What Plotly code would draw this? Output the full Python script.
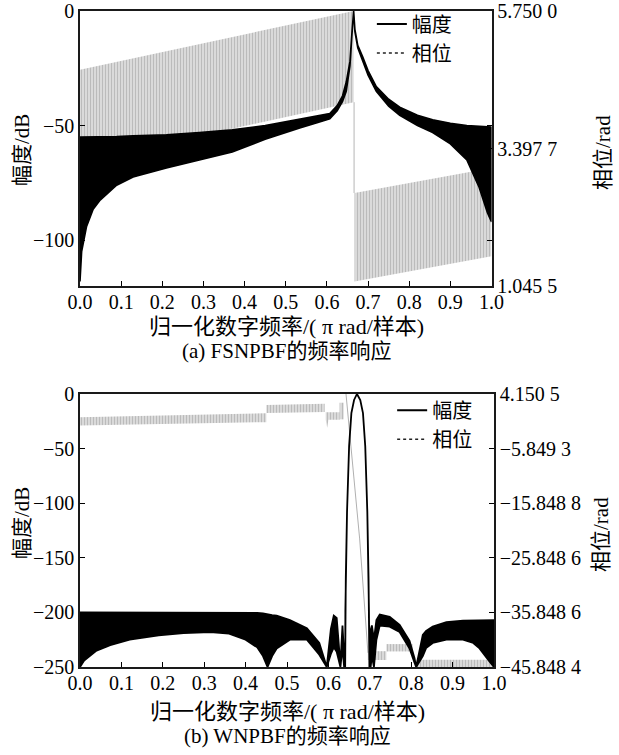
import plotly.graph_objects as go

FONT = "Liberation Serif, Noto Sans CJK SC, serif"

# ---------------- (a) FSNPBF ----------------
# magnitude envelope (dB): the dense ripple is drawn as the band between upper / lower
fs_freq = [0.000, 0.004, 0.016, 0.032, 0.049, 0.089, 0.129, 0.210, 0.290, 0.370,
           0.450, 0.534, 0.580, 0.607, 0.625, 0.638, 0.647, 0.656, 0.661, 0.665,
           0.668, 0.675, 0.687, 0.700, 0.720, 0.750, 0.777, 0.820, 0.857, 0.900,
           0.940, 0.970, 0.990, 1.000]
fs_mag_upper = [-55, -55, -55, -55, -55, -54.8, -54.5, -54, -53, -51.8,
                -50, -47.3, -46, -44.8, -41.3, -37, -31, -22, -9, 0,
                -8, -15, -20, -26, -33, -38.5, -42, -45.5, -47.5, -49,
                -50, -50.3, -50.5, -50.6]
fs_mag_lower = [-118, -105, -94, -86.5, -82.5, -76, -72.4, -68.5, -65, -61.5,
                -56, -51, -48.5, -47, -43.5, -39.5, -35, -24, -10, 0,
                -9, -16, -21.5, -28, -35, -41.5, -45.5, -50, -53, -58,
                -65, -77, -88, -92]

# phase envelope (rad), two branches either side of the jump
fs_ph1_freq = [0.000, 0.665]
fs_ph1_upper = [4.746, 5.750]
fs_ph1_lower = [3.170, 4.190]
fs_ph2_freq = [0.667, 1.000]
fs_ph2_upper = [2.637, 3.065]
fs_ph2_lower = [1.124, 1.555]
fs_jump_freq = [0.666, 0.666]
fs_jump_phase = [4.190, 2.637]

fs_mag_ticks = [-100, -50, 0]
fs_ph_ticks = [1.0455, 3.3977, 5.7500]
fs_ph_ticktext = ["1.045 5", "3.397 7", "5.750 0"]

# ---------------- (b) WNPBF ----------------
wn_freq = [0.000, 0.010, 0.017, 0.040, 0.073, 0.120, 0.190, 0.250, 0.315, 0.360,
           0.400, 0.428, 0.442, 0.453, 0.464, 0.475, 0.507, 0.548, 0.578, 0.596,
           0.606, 0.613, 0.620, 0.629, 0.634, 0.638, 0.6405, 0.641, 0.642, 0.645,
           0.650, 0.6555, 0.662, 0.669, 0.677, 0.6835, 0.689, 0.694, 0.697, 0.698,
           0.699, 0.702, 0.705, 0.710, 0.716, 0.724, 0.748, 0.772, 0.796, 0.808,
           0.812, 0.828, 0.836, 0.852, 0.885, 0.925, 0.950, 0.965, 0.989, 1.000]
wn_mag_upper = [-200, -200, -200, -200, -200, -200, -200, -200, -200, -200,
                -200, -200.5, -201, -202, -202.5, -203, -207, -214.5, -228, -250,
                -215, -203, -205, -248, -212, -240, -250, -199, -169, -108,
                -48, -17.6, -5.5, 0, -5.5, -17.6, -48, -108, -169, -199,
                -250, -216, -212, -225, -207, -202, -204, -211.5, -226, -242,
                -250, -220.6, -217, -213, -209, -207.6, -207.3, -207.2, -207, -207]
wn_mag_lower = [-250, -244, -241.8, -235, -230, -225, -221, -219, -218, -219.5,
                -225, -232, -240, -250, -240, -233, -225, -225, -238.8, -250,
                -238, -232, -236, -250, -232, -250, -250, -199, -169, -108,
                -48, -17.6, -5.5, 0, -5.5, -17.6, -48, -108, -169, -199,
                -250, -250, -240, -250, -225, -212, -213, -218, -233, -246,
                -250, -240, -232.7, -228, -225, -225, -228, -233, -245, -250]

# phase (rad): piecewise steps plus the linear-phase passband segment
wn_ph_bands = {
    "p1": ([0.000, 0.450], [-0.09, 0.63], [-1.61, -1.01]),
    "p2": ([0.450, 0.591], [2.15, 2.35], [0.65, 0.85]),
    "p3": ([0.5935, 0.597, 0.600, 0.627], [0.81, 0.81, 0.81, 0.81], [-0.57, -2.05, -0.57, -0.57]),
    "p4": ([0.627, 0.637], [2.55, 2.55], [-0.50, -0.50]),
    "p5": ([0.695, 0.740], [-42.95, -42.95], [-44.57, -44.57]),
    "p6": ([0.740, 0.804], [-41.65, -41.65], [-43.00, -43.00]),
    "p7": ([0.812, 1.000], [-44.50, -44.50], [-45.85, -45.85]),
}
wn_pass_freq = [0.6425, 0.6755, 0.6955]
wn_pass_phase = [4.15, -22.4, -43.25]

wn_mag_ticks = [-250, -200, -150, -100, -50, 0]
wn_ph_ticks = [-45.8484, -35.8486, -25.8486, -15.8488, -5.8493, 4.1505]
wn_ph_ticktext = ["\u221245.848 4", "\u221235.848 6", "\u221225.848 6",
                  "\u221215.848 8", "\u22125.849 3", "4.150 5"]

x_ticks = [0.0, 0.1, 0.2, 0.3, 0.4, 0.5, 0.6, 0.7, 0.8, 0.9, 1.0]
x_ticktext = ["0.0", "0.1", "0.2", "0.3", "0.4", "0.5", "0.6", "0.7", "0.8", "0.9", "1.0"]


def band(x, up, lo):
    """Closed polygon between an upper and lower envelope."""
    return list(x) + list(x)[::-1] + [x[0]], list(up) + list(lo)[::-1] + [up[0]]


PHASE_PATTERN = dict(shape="|", fgcolor="#9c9c9c", bgcolor="#dadada", size=3, solidity=0.34)

fig = go.Figure()

# ---- subplot (a): phase first (base axis), magnitude on overlaying axis ----
for fx, fu, fl in [(fs_ph1_freq, fs_ph1_upper, fs_ph1_lower),
                   (fs_ph2_freq, fs_ph2_upper, fs_ph2_lower)]:
    px, py = band(fx, fu, fl)
    fig.add_trace(go.Scatter(x=px, y=py, xaxis="x", yaxis="y", mode="lines",
                             line=dict(width=0, color="#bdbdbd"), fill="toself",
                             fillcolor="#cfcfcf", fillpattern=PHASE_PATTERN,
                             showlegend=False, hoverinfo="skip"))
fig.add_trace(go.Scatter(x=fs_jump_freq, y=fs_jump_phase, xaxis="x", yaxis="y", mode="lines",
                         line=dict(width=1, color="#b5b5b5"), showlegend=False, hoverinfo="skip"))

px, py = band(fs_freq, fs_mag_upper, fs_mag_lower)
fig.add_trace(go.Scatter(x=px, y=py, xaxis="x", yaxis="y3", mode="lines",
                         line=dict(width=1.6, color="black"), fill="toself", fillcolor="black",
                         showlegend=False, hoverinfo="skip"))

# ---- subplot (b) ----
for key, (fx, fu, fl) in wn_ph_bands.items():
    px, py = band(fx, fu, fl)
    fig.add_trace(go.Scatter(x=px, y=py, xaxis="x2", yaxis="y2", mode="lines",
                             line=dict(width=0, color="#bdbdbd"), fill="toself",
                             fillcolor="#cfcfcf", fillpattern=PHASE_PATTERN,
                             showlegend=False, hoverinfo="skip"))
fig.add_trace(go.Scatter(x=wn_pass_freq, y=wn_pass_phase, xaxis="x2", yaxis="y2", mode="lines",
                         line=dict(width=1, color="#b0b0b0"), showlegend=False, hoverinfo="skip"))

px, py = band(wn_freq, wn_mag_upper, wn_mag_lower)
fig.add_trace(go.Scatter(x=px, y=py, xaxis="x2", yaxis="y4", mode="lines",
                         line=dict(width=1.8, color="black"), fill="toself", fillcolor="black",
                         showlegend=False, hoverinfo="skip"))

# ---- legend entries ----
for lg, xa, ya_m, ya_p in [("legend", "x", "y3", "y"), ("legend2", "x2", "y4", "y2")]:
    fig.add_trace(go.Scatter(x=[None], y=[None], xaxis=xa, yaxis=ya_m, mode="lines",
                             name="幅度", line=dict(color="black", width=2), legend=lg))
    fig.add_trace(go.Scatter(x=[None], y=[None], xaxis=xa, yaxis=ya_p, mode="lines",
                             name="相位", line=dict(color="#222", width=1.6, dash="dot"), legend=lg))

AX = dict(showgrid=False, zeroline=False, showline=True, linecolor="#1a1a1a", linewidth=1.5,
          ticks="inside", ticklen=5, tickwidth=1.3, tickcolor="black", automargin=False,
          tickfont=dict(family=FONT, size=20, color="black"))
XAX = dict(AX, range=[0, 1], tickvals=x_ticks, ticktext=x_ticktext, mirror=True,
           ticklabelstandoff=-3)

TOP = [0.5808, 1.0]
BOT = [0.0, 0.4162]

fig.update_layout(
    width=619, height=755,
    margin=dict(l=80, r=125, t=11, b=88, autoexpand=False),
    paper_bgcolor="white", plot_bgcolor="white",
    font=dict(family=FONT, size=20, color="black"),
    xaxis=dict(XAX, domain=[0, 0.994], anchor="y"),
    yaxis=dict(AX, domain=TOP, anchor="x", side="right", range=[1.0455, 5.7500],
               tickvals=fs_ph_ticks, ticktext=fs_ph_ticktext),
    yaxis3=dict(AX, overlaying="y", anchor="x", side="left", range=[-120, 0],
                tickvals=fs_mag_ticks, mirror="ticks"),
    xaxis2=dict(XAX, domain=[0, 1], anchor="y2"),
    yaxis2=dict(AX, domain=BOT, anchor="x2", side="right", range=[-45.8484, 4.1505],
                tickvals=wn_ph_ticks, ticktext=wn_ph_ticktext),
    yaxis4=dict(AX, overlaying="y2", anchor="x2", side="left", range=[-250, 0],
                tickvals=wn_mag_ticks, mirror="ticks"),
    legend=dict(x=0.705, y=1.010, xanchor="left", yanchor="top", bgcolor="rgba(0,0,0,0)",
                font=dict(family=FONT, size=20), itemwidth=30, tracegroupgap=0),
    legend2=dict(x=0.754, y=0.421, xanchor="left", yanchor="top", bgcolor="rgba(0,0,0,0)",
                 font=dict(family=FONT, size=20), itemwidth=30, tracegroupgap=0),
)


def note(text, x, y, angle=0, size=20):
    fig.add_annotation(text=text, x=x, y=y, xref="paper", yref="paper", showarrow=False,
                       textangle=angle, font=dict(family=FONT, size=size, color="black"),
                       xanchor="center", yanchor="middle")


H = 656.0


def py(pix):
    return (667 - pix) / H


def pxx(pix):
    return (pix - 80) / 414.0


note("归一化数字频率/( π rad/样本)", pxx(286), py(326), size=22)
note("(a) FSNPBF的频率响应", pxx(286), py(351), size=21)
note("归一化数字频率/( π rad/样本)", pxx(287), py(711), size=22)
note("(b) WNPBF的频率响应", pxx(287), py(736), size=21)
note("幅度/dB", pxx(22), py(150), angle=-90, size=21)
note("幅度/dB", pxx(22), py(523), angle=-90, size=21)
note("相位/rad", pxx(603), py(153), angle=-90, size=21)
note("相位/rad", pxx(601), py(535), angle=-90, size=21)

fig.write_html("out.html")
